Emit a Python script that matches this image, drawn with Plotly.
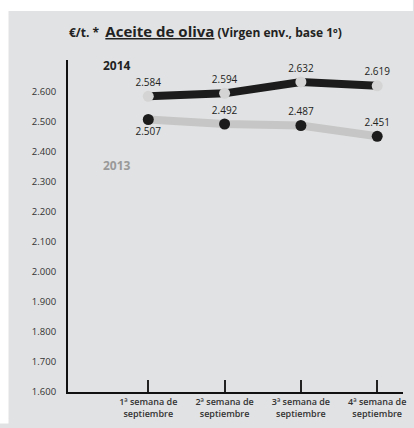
import plotly.graph_objects as go

categories = ["1ª semana de<br>septiembre", "2ª semana de<br>septiembre",
              "3ª semana de<br>septiembre", "4ª semana de<br>septiembre"]
weeks = [1, 2, 3, 4]
values_2014 = [2584, 2594, 2632, 2619]
values_2013 = [2507, 2492, 2487, 2451]
labels_2014 = ["2.584", "2.594", "2.632", "2.619"]
labels_2013 = ["2.507", "2.492", "2.487", "2.451"]
y_ticks = [1600, 1700, 1800, 1900, 2000, 2100, 2200, 2300, 2400, 2500, 2600]
y_ticktext = ["1.600", "1.700", "1.800", "1.900", "2.000", "2.100", "2.200",
              "2.300", "2.400", "2.500", "2.600"]

FONT = "Open Sans"
PANEL = "#e1e2e3"

fig = go.Figure()

fig.add_trace(go.Scatter(
    x=weeks, y=values_2013, mode="lines+markers+text",
    line=dict(color="#c6c6c6", width=8),
    marker=dict(color="#1c1c1c", size=11),
    text=labels_2013,
    textposition=["bottom center", "top center", "top center", "top center"],
    textfont=dict(family=FONT, size=10, color="#222"),
    cliponaxis=False, hoverinfo="skip", showlegend=False,
))
fig.add_trace(go.Scatter(
    x=weeks, y=values_2014, mode="lines+markers+text",
    line=dict(color="#1c1c1c", width=8),
    marker=dict(color="#d4d4d4", size=11),
    text=labels_2014, textposition="top center",
    textfont=dict(family=FONT, size=10, color="#222"),
    cliponaxis=False, hoverinfo="skip", showlegend=False,
))

fig.update_layout(
    width=414, height=428,
    margin=dict(l=68, r=8, t=60, b=30),
    paper_bgcolor=PANEL,
    plot_bgcolor="rgba(0,0,0,0)",
    font=dict(family=FONT, color="#333"),
    xaxis=dict(
        range=[-0.052, 4.338], showgrid=False, zeroline=False,
        showline=True, linecolor="#111", linewidth=2,
        tickvals=weeks, ticktext=categories,
        ticks="inside", ticklen=12, tickwidth=1.5, tickcolor="#222",
        tickfont=dict(family=FONT, size=9, color="#333", weight=600),
    ),
    yaxis=dict(
        range=[1600, 2705], showgrid=False, zeroline=False,
        showline=True, linecolor="#111", linewidth=2,
        tickvals=y_ticks, ticktext=y_ticktext, ticks="",
        ticklabelstandoff=8,
        tickfont=dict(family=FONT, size=9.5, color="#333"),
    ),
    shapes=[
        dict(type="rect", xref="paper", yref="paper",
             x0=-70 / 338, x1=-60 / 338, y0=-32 / 338, y1=400 / 338,
             fillcolor="white", line=dict(width=0), layer="below"),
        dict(type="rect", xref="paper", yref="paper",
             x0=-70 / 338, x1=348 / 338, y0=388 / 338, y1=400 / 338,
             fillcolor="white", line=dict(width=0), layer="below"),
    ],
    annotations=[
        dict(xref="paper", yref="paper", x=139 / 338, y=368 / 338,
             xanchor="center", yanchor="middle", showarrow=False,
             text="<b>€/t. *</b>  <b><u><span style='font-size:15px'>Aceite de oliva</span></u></b>"
                  " <b><span style='font-size:12px'>(Virgen env., base 1º)</span></b>",
             font=dict(family=FONT, size=12, color="#222")),
        dict(xref="paper", yref="paper", x=49 / 338, y=332 / 338,
             xanchor="center", yanchor="middle", showarrow=False,
             text="<b>2014</b>", font=dict(family=FONT, size=12, color="#222")),
        dict(xref="paper", yref="paper", x=49 / 338, y=231 / 338,
             xanchor="center", yanchor="middle", showarrow=False,
             text="<b>2013</b>", font=dict(family=FONT, size=12, color="#999")),
    ],
)

fig.write_html("out.html",
               config={"displayModeBar": False},
               post_script="document.body.style.margin='0';document.body.style.overflow='hidden';")
